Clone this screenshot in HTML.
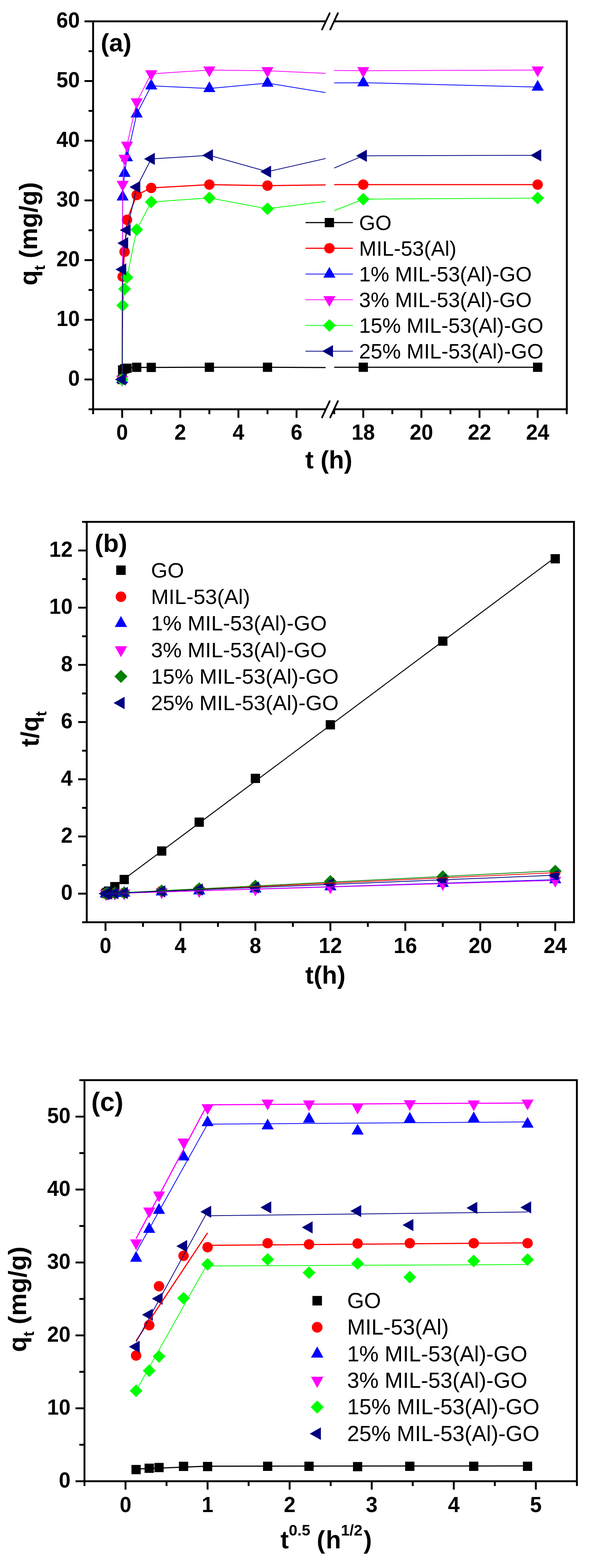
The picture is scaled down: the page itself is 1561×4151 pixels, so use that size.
<!DOCTYPE html>
<html><head><meta charset="utf-8"><title>Adsorption kinetics</title><style>html,body{margin:0;padding:0;background:#fff;}svg{display:block;}</style></head><body>
<svg width="1561" height="4151" viewBox="0 0 1561 4151" font-family="'Liberation Sans', Arial, Helvetica, sans-serif">
<rect width="1561" height="4151" fill="#fff"/>
<defs><clipPath id="ca1"><rect x="246" y="56" width="615.5" height="1028"/></clipPath><clipPath id="ca2"><rect x="884.2" y="56" width="616" height="1028"/></clipPath></defs>
<polyline points="323.2,1004.6 324.5,979.3 329.6,976.5 336.0,974.9 361.7,972.4 400.1,972.7 553.9,972.2 707.7,972.2 863.8,973.0 872.9,972.2 961.1,972.2 1422.5,972.2" fill="none" stroke="#000000" stroke-width="3" clip-path="url(#ca1)"/>
<polyline points="323.2,1004.6 324.5,979.3 329.6,976.5 336.0,974.9 361.7,972.4 400.1,972.7 553.9,972.2 707.7,972.2 863.8,973.0 872.9,972.2 961.1,972.2 1422.5,972.2" fill="none" stroke="#000000" stroke-width="3" clip-path="url(#ca2)"/>
<rect x="311.0" y="992.4" width="24.5" height="24.5" fill="#000000"/>
<rect x="312.2" y="967.1" width="24.5" height="24.5" fill="#000000"/>
<rect x="317.4" y="964.2" width="24.5" height="24.5" fill="#000000"/>
<rect x="323.8" y="962.6" width="24.5" height="24.5" fill="#000000"/>
<rect x="349.4" y="960.1" width="24.5" height="24.5" fill="#000000"/>
<rect x="387.9" y="960.4" width="24.5" height="24.5" fill="#000000"/>
<rect x="541.7" y="960.0" width="24.5" height="24.5" fill="#000000"/>
<rect x="695.5" y="960.0" width="24.5" height="24.5" fill="#000000"/>
<rect x="948.9" y="960.0" width="24.5" height="24.5" fill="#000000"/>
<rect x="1410.2" y="960.0" width="24.5" height="24.5" fill="#000000"/>
<polyline points="323.2,1004.6 324.5,732.2 329.6,666.4 336.0,582.1 361.7,516.2 400.1,497.5 553.9,488.8 707.7,491.4 863.8,489.5 872.9,488.8 961.1,488.8 1422.5,488.8" fill="none" stroke="#FF0000" stroke-width="3" clip-path="url(#ca1)"/>
<polyline points="323.2,1004.6 324.5,732.2 329.6,666.4 336.0,582.1 361.7,516.2 400.1,497.5 553.9,488.8 707.7,491.4 863.8,489.5 872.9,488.8 961.1,488.8 1422.5,488.8" fill="none" stroke="#FF0000" stroke-width="3" clip-path="url(#ca2)"/>
<circle cx="323.2" cy="1004.6" r="13.8" fill="#FF0000"/>
<circle cx="324.5" cy="732.2" r="13.8" fill="#FF0000"/>
<circle cx="329.6" cy="666.4" r="13.8" fill="#FF0000"/>
<circle cx="336.0" cy="582.1" r="13.8" fill="#FF0000"/>
<circle cx="361.7" cy="516.2" r="13.8" fill="#FF0000"/>
<circle cx="400.1" cy="497.5" r="13.8" fill="#FF0000"/>
<circle cx="553.9" cy="488.8" r="13.8" fill="#FF0000"/>
<circle cx="707.7" cy="491.4" r="13.8" fill="#FF0000"/>
<circle cx="961.1" cy="488.8" r="13.8" fill="#FF0000"/>
<circle cx="1422.5" cy="488.8" r="13.8" fill="#FF0000"/>
<polyline points="323.2,1004.6 324.5,521.2 329.6,458.7 336.0,417.4 361.7,301.6 400.1,227.3 553.9,234.3 707.7,220.0 863.8,245.6 872.9,219.7 961.1,218.9 1422.5,230.6" fill="none" stroke="#0000FF" stroke-width="2" clip-path="url(#ca1)"/>
<polyline points="323.2,1004.6 324.5,521.2 329.6,458.7 336.0,417.4 361.7,301.6 400.1,227.3 553.9,234.3 707.7,220.0 863.8,245.6 872.9,219.7 961.1,218.9 1422.5,230.6" fill="none" stroke="#0000FF" stroke-width="2" clip-path="url(#ca2)"/>
<polygon points="323.2,985.6 339.2,1014.1 307.2,1014.1" fill="#0000FF"/>
<polygon points="324.5,502.2 340.5,530.7 308.5,530.7" fill="#0000FF"/>
<polygon points="329.6,439.7 345.6,468.2 313.6,468.2" fill="#0000FF"/>
<polygon points="336.0,398.4 352.0,426.9 320.0,426.9" fill="#0000FF"/>
<polygon points="361.7,282.6 377.7,311.1 345.7,311.1" fill="#0000FF"/>
<polygon points="400.1,208.3 416.1,236.8 384.1,236.8" fill="#0000FF"/>
<polygon points="553.9,215.3 569.9,243.8 537.9,243.8" fill="#0000FF"/>
<polygon points="707.7,201.0 723.7,229.5 691.7,229.5" fill="#0000FF"/>
<polygon points="961.1,199.9 977.1,228.4 945.1,228.4" fill="#0000FF"/>
<polygon points="1422.5,211.6 1438.5,240.1 1406.5,240.1" fill="#0000FF"/>
<polyline points="323.2,1004.6 324.5,488.2 329.6,419.3 336.0,384.5 361.7,269.8 400.1,195.4 553.9,185.4 707.7,187.2 863.8,194.3 872.9,186.5 961.1,187.2 1422.5,185.4" fill="none" stroke="#FF00FF" stroke-width="2" clip-path="url(#ca1)"/>
<polyline points="323.2,1004.6 324.5,488.2 329.6,419.3 336.0,384.5 361.7,269.8 400.1,195.4 553.9,185.4 707.7,187.2 863.8,194.3 872.9,186.5 961.1,187.2 1422.5,185.4" fill="none" stroke="#FF00FF" stroke-width="2" clip-path="url(#ca2)"/>
<polygon points="307.2,995.1 339.2,995.1 323.2,1023.6" fill="#FF00FF"/>
<polygon points="308.5,478.7 340.5,478.7 324.5,507.2" fill="#FF00FF"/>
<polygon points="313.6,409.8 345.6,409.8 329.6,438.3" fill="#FF00FF"/>
<polygon points="320.0,375.0 352.0,375.0 336.0,403.5" fill="#FF00FF"/>
<polygon points="345.7,260.3 377.7,260.3 361.7,288.8" fill="#FF00FF"/>
<polygon points="384.1,185.9 416.1,185.9 400.1,214.4" fill="#FF00FF"/>
<polygon points="537.9,175.9 569.9,175.9 553.9,204.4" fill="#FF00FF"/>
<polygon points="691.7,177.7 723.7,177.7 707.7,206.2" fill="#FF00FF"/>
<polygon points="945.1,177.7 977.1,177.7 961.1,206.2" fill="#FF00FF"/>
<polygon points="1406.5,175.9 1438.5,175.9 1422.5,204.4" fill="#FF00FF"/>
<polyline points="323.2,1004.6 324.5,808.5 329.6,765.0 336.0,734.2 361.7,608.0 400.1,534.7 553.9,523.9 707.7,552.7 863.8,532.8 872.9,562.3 961.1,527.2 1422.5,524.4" fill="none" stroke="#00FF00" stroke-width="2" clip-path="url(#ca1)"/>
<polyline points="323.2,1004.6 324.5,808.5 329.6,765.0 336.0,734.2 361.7,608.0 400.1,534.7 553.9,523.9 707.7,552.7 863.8,532.8 872.9,562.3 961.1,527.2 1422.5,524.4" fill="none" stroke="#00FF00" stroke-width="2" clip-path="url(#ca2)"/>
<polygon points="323.2,987.8 340.1,1004.6 323.2,1021.5 306.4,1004.6" fill="#00FF00"/>
<polygon points="324.5,791.7 341.3,808.5 324.5,825.4 307.6,808.5" fill="#00FF00"/>
<polygon points="329.6,748.2 346.5,765.0 329.6,781.9 312.8,765.0" fill="#00FF00"/>
<polygon points="336.0,717.4 352.9,734.2 336.0,751.1 319.2,734.2" fill="#00FF00"/>
<polygon points="361.7,591.1 378.5,608.0 361.7,624.8 344.8,608.0" fill="#00FF00"/>
<polygon points="400.1,517.8 417.0,534.7 400.1,551.5 383.2,534.7" fill="#00FF00"/>
<polygon points="553.9,507.1 570.8,523.9 553.9,540.8 537.1,523.9" fill="#00FF00"/>
<polygon points="707.7,535.8 724.6,552.7 707.7,569.5 690.9,552.7" fill="#00FF00"/>
<polygon points="961.1,510.4 978.0,527.2 961.1,544.1 944.2,527.2" fill="#00FF00"/>
<polygon points="1422.5,507.5 1439.3,524.4 1422.5,541.2 1405.7,524.4" fill="#00FF00"/>
<polyline points="323.2,1004.6 324.5,713.2 329.6,643.8 336.0,609.1 361.7,495.2 400.1,420.7 553.9,411.2 707.7,454.5 863.8,419.1 872.9,449.5 961.1,412.4 1422.5,411.2" fill="none" stroke="#000080" stroke-width="2" clip-path="url(#ca1)"/>
<polyline points="323.2,1004.6 324.5,713.2 329.6,643.8 336.0,609.1 361.7,495.2 400.1,420.7 553.9,411.2 707.7,454.5 863.8,419.1 872.9,449.5 961.1,412.4 1422.5,411.2" fill="none" stroke="#000080" stroke-width="2" clip-path="url(#ca2)"/>
<polygon points="304.2,1004.6 332.7,988.5 332.7,1020.7" fill="#000080"/>
<polygon points="305.5,713.2 334.0,697.1 334.0,729.3" fill="#000080"/>
<polygon points="310.6,643.8 339.1,627.7 339.1,659.9" fill="#000080"/>
<polygon points="317.0,609.1 345.5,593.0 345.5,625.2" fill="#000080"/>
<polygon points="342.7,495.2 371.2,479.1 371.2,511.3" fill="#000080"/>
<polygon points="381.1,420.7 409.6,404.6 409.6,436.8" fill="#000080"/>
<polygon points="534.9,411.2 563.4,395.1 563.4,427.3" fill="#000080"/>
<polygon points="688.7,454.5 717.2,438.4 717.2,470.6" fill="#000080"/>
<polygon points="942.1,412.4 970.6,396.3 970.6,428.5" fill="#000080"/>
<polygon points="1403.5,411.2 1432.0,395.1 1432.0,427.3" fill="#000080"/>
<g stroke="#000" stroke-width="5" fill="none">
<line x1="246.3" y1="56.5" x2="246.3" y2="1083.5"/>
<line x1="1499.7" y1="54.0" x2="1499.7" y2="1086.0"/>
<line x1="243.8" y1="56.5" x2="861.5" y2="56.5"/>
<line x1="885" y1="56.5" x2="1502.2" y2="56.5"/>
<line x1="243.8" y1="1083.5" x2="861.5" y2="1083.5"/>
<line x1="885" y1="1083.5" x2="1502.2" y2="1083.5"/>
</g>
<line x1="852.1" y1="78.0" x2="872.3" y2="35.0" stroke="#000000" stroke-width="4.6" stroke-linecap="round"/>
<line x1="873.8" y1="78.0" x2="894.0" y2="35.0" stroke="#000000" stroke-width="4.6" stroke-linecap="round"/>
<line x1="852.1" y1="1105.0" x2="872.3" y2="1062.0" stroke="#000000" stroke-width="4.6" stroke-linecap="round"/>
<line x1="873.8" y1="1105.0" x2="894.0" y2="1062.0" stroke="#000000" stroke-width="4.6" stroke-linecap="round"/>
<line x1="234.3" y1="1083.6" x2="246.3" y2="1083.6" stroke="#000000" stroke-width="5" stroke-linecap="butt"/>
<line x1="223.6" y1="1004.6" x2="246.3" y2="1004.6" stroke="#000000" stroke-width="5" stroke-linecap="butt"/>
<text transform="translate(211.0,1020.9) scale(1,1.05)" font-size="55.5" font-weight="bold" text-anchor="end" >0</text>
<line x1="234.3" y1="925.6" x2="246.3" y2="925.6" stroke="#000000" stroke-width="5" stroke-linecap="butt"/>
<line x1="223.6" y1="846.6" x2="246.3" y2="846.6" stroke="#000000" stroke-width="5" stroke-linecap="butt"/>
<text transform="translate(211.0,862.9) scale(1,1.05)" font-size="55.5" font-weight="bold" text-anchor="end" >10</text>
<line x1="234.3" y1="767.6" x2="246.3" y2="767.6" stroke="#000000" stroke-width="5" stroke-linecap="butt"/>
<line x1="223.6" y1="688.6" x2="246.3" y2="688.6" stroke="#000000" stroke-width="5" stroke-linecap="butt"/>
<text transform="translate(211.0,704.9) scale(1,1.05)" font-size="55.5" font-weight="bold" text-anchor="end" >20</text>
<line x1="234.3" y1="609.6" x2="246.3" y2="609.6" stroke="#000000" stroke-width="5" stroke-linecap="butt"/>
<line x1="223.6" y1="530.5" x2="246.3" y2="530.5" stroke="#000000" stroke-width="5" stroke-linecap="butt"/>
<text transform="translate(211.0,546.8) scale(1,1.05)" font-size="55.5" font-weight="bold" text-anchor="end" >30</text>
<line x1="234.3" y1="451.5" x2="246.3" y2="451.5" stroke="#000000" stroke-width="5" stroke-linecap="butt"/>
<line x1="223.6" y1="372.5" x2="246.3" y2="372.5" stroke="#000000" stroke-width="5" stroke-linecap="butt"/>
<text transform="translate(211.0,388.8) scale(1,1.05)" font-size="55.5" font-weight="bold" text-anchor="end" >40</text>
<line x1="234.3" y1="293.5" x2="246.3" y2="293.5" stroke="#000000" stroke-width="5" stroke-linecap="butt"/>
<line x1="223.6" y1="214.5" x2="246.3" y2="214.5" stroke="#000000" stroke-width="5" stroke-linecap="butt"/>
<text transform="translate(211.0,230.8) scale(1,1.05)" font-size="55.5" font-weight="bold" text-anchor="end" >50</text>
<line x1="234.3" y1="135.5" x2="246.3" y2="135.5" stroke="#000000" stroke-width="5" stroke-linecap="butt"/>
<line x1="223.6" y1="56.5" x2="246.3" y2="56.5" stroke="#000000" stroke-width="5" stroke-linecap="butt"/>
<text transform="translate(211.0,72.8) scale(1,1.05)" font-size="55.5" font-weight="bold" text-anchor="end" >60</text>
<line x1="246.3" y1="1083.5" x2="246.3" y2="1096.4" stroke="#000000" stroke-width="5" stroke-linecap="butt"/>
<line x1="323.2" y1="1083.5" x2="323.2" y2="1106.3" stroke="#000000" stroke-width="5" stroke-linecap="butt"/>
<text transform="translate(323.2,1163.5) scale(1,1.05)" font-size="55.5" font-weight="bold" text-anchor="middle" >0</text>
<line x1="400.1" y1="1083.5" x2="400.1" y2="1096.4" stroke="#000000" stroke-width="5" stroke-linecap="butt"/>
<line x1="477.0" y1="1083.5" x2="477.0" y2="1106.3" stroke="#000000" stroke-width="5" stroke-linecap="butt"/>
<text transform="translate(477.0,1163.5) scale(1,1.05)" font-size="55.5" font-weight="bold" text-anchor="middle" >2</text>
<line x1="553.9" y1="1083.5" x2="553.9" y2="1096.4" stroke="#000000" stroke-width="5" stroke-linecap="butt"/>
<line x1="630.8" y1="1083.5" x2="630.8" y2="1106.3" stroke="#000000" stroke-width="5" stroke-linecap="butt"/>
<text transform="translate(630.8,1163.5) scale(1,1.05)" font-size="55.5" font-weight="bold" text-anchor="middle" >4</text>
<line x1="707.7" y1="1083.5" x2="707.7" y2="1096.4" stroke="#000000" stroke-width="5" stroke-linecap="butt"/>
<line x1="784.6" y1="1083.5" x2="784.6" y2="1106.3" stroke="#000000" stroke-width="5" stroke-linecap="butt"/>
<text transform="translate(784.6,1163.5) scale(1,1.05)" font-size="55.5" font-weight="bold" text-anchor="middle" >6</text>
<line x1="884.2" y1="1083.5" x2="884.2" y2="1096.4" stroke="#000000" stroke-width="5" stroke-linecap="butt"/>
<line x1="961.1" y1="1083.5" x2="961.1" y2="1106.3" stroke="#000000" stroke-width="5" stroke-linecap="butt"/>
<text transform="translate(961.1,1163.5) scale(1,1.05)" font-size="55.5" font-weight="bold" text-anchor="middle" >18</text>
<line x1="1038.0" y1="1083.5" x2="1038.0" y2="1096.4" stroke="#000000" stroke-width="5" stroke-linecap="butt"/>
<line x1="1114.9" y1="1083.5" x2="1114.9" y2="1106.3" stroke="#000000" stroke-width="5" stroke-linecap="butt"/>
<text transform="translate(1114.9,1163.5) scale(1,1.05)" font-size="55.5" font-weight="bold" text-anchor="middle" >20</text>
<line x1="1191.8" y1="1083.5" x2="1191.8" y2="1096.4" stroke="#000000" stroke-width="5" stroke-linecap="butt"/>
<line x1="1268.7" y1="1083.5" x2="1268.7" y2="1106.3" stroke="#000000" stroke-width="5" stroke-linecap="butt"/>
<text transform="translate(1268.7,1163.5) scale(1,1.05)" font-size="55.5" font-weight="bold" text-anchor="middle" >22</text>
<line x1="1345.6" y1="1083.5" x2="1345.6" y2="1096.4" stroke="#000000" stroke-width="5" stroke-linecap="butt"/>
<line x1="1422.5" y1="1083.5" x2="1422.5" y2="1106.3" stroke="#000000" stroke-width="5" stroke-linecap="butt"/>
<text transform="translate(1422.5,1163.5) scale(1,1.05)" font-size="55.5" font-weight="bold" text-anchor="middle" >24</text>
<line x1="1499.4" y1="1083.5" x2="1499.4" y2="1096.4" stroke="#000000" stroke-width="5" stroke-linecap="butt"/>
<text x="870.0" y="1240.0" font-size="66" font-weight="bold" text-anchor="middle" >t (h)</text>
<text transform="translate(97.5,619) rotate(-90)" font-size="66" font-weight="bold" text-anchor="middle">q<tspan font-size="40" dy="21">t</tspan><tspan dy="-21"> (mg/g)</tspan></text>
<text x="266.5" y="136.0" font-size="66.5" font-weight="bold" text-anchor="start" >(a)</text>
<line x1="808.3" y1="589.2" x2="933.7" y2="589.2" stroke="#000000" stroke-width="3" stroke-linecap="butt"/>
<rect x="859.2" y="577.0" width="24.5" height="24.5" fill="#000000"/>
<text x="950.0" y="608.7" font-size="55.2" font-weight="normal" text-anchor="start" >GO</text>
<line x1="808.3" y1="657.3" x2="933.7" y2="657.3" stroke="#FF0000" stroke-width="3" stroke-linecap="butt"/>
<circle cx="871.5" cy="657.3" r="13.8" fill="#FF0000"/>
<text x="950.0" y="676.8" font-size="55.2" font-weight="normal" text-anchor="start" >MIL-53(Al)</text>
<line x1="808.3" y1="725.4" x2="933.7" y2="725.4" stroke="#0000FF" stroke-width="2" stroke-linecap="butt"/>
<polygon points="871.5,706.4 887.5,734.9 855.5,734.9" fill="#0000FF"/>
<text x="950.0" y="744.9" font-size="55.2" font-weight="normal" text-anchor="start" >1% MIL-53(Al)-GO</text>
<line x1="808.3" y1="793.5" x2="933.7" y2="793.5" stroke="#FF00FF" stroke-width="2" stroke-linecap="butt"/>
<polygon points="855.5,784.0 887.5,784.0 871.5,812.5" fill="#FF00FF"/>
<text x="950.0" y="813.0" font-size="55.2" font-weight="normal" text-anchor="start" >3% MIL-53(Al)-GO</text>
<line x1="808.3" y1="861.6" x2="933.7" y2="861.6" stroke="#00FF00" stroke-width="2" stroke-linecap="butt"/>
<polygon points="871.5,844.8 888.4,861.6 871.5,878.5 854.6,861.6" fill="#00FF00"/>
<text x="950.0" y="881.1" font-size="55.2" font-weight="normal" text-anchor="start" >15% MIL-53(Al)-GO</text>
<line x1="808.3" y1="929.7" x2="933.7" y2="929.7" stroke="#000080" stroke-width="2" stroke-linecap="butt"/>
<polygon points="852.5,929.7 881.0,913.6 881.0,945.8" fill="#000080"/>
<text x="950.0" y="949.2" font-size="55.2" font-weight="normal" text-anchor="start" >25% MIL-53(Al)-GO</text>
<rect x="267.7" y="2352.8" width="24.5" height="24.5" fill="#000000"/>
<rect x="271.0" y="2350.0" width="24.5" height="24.5" fill="#000000"/>
<rect x="275.1" y="2346.8" width="24.5" height="24.5" fill="#000000"/>
<rect x="291.6" y="2335.0" width="24.5" height="24.5" fill="#000000"/>
<rect x="316.4" y="2316.1" width="24.5" height="24.5" fill="#000000"/>
<rect x="415.6" y="2240.7" width="24.5" height="24.5" fill="#000000"/>
<rect x="514.8" y="2164.3" width="24.5" height="24.5" fill="#000000"/>
<rect x="663.5" y="2048.4" width="24.5" height="24.5" fill="#000000"/>
<rect x="861.8" y="1906.5" width="24.5" height="24.5" fill="#000000"/>
<rect x="1159.3" y="1685.0" width="24.5" height="24.5" fill="#000000"/>
<rect x="1456.8" y="1467.0" width="24.5" height="24.5" fill="#000000"/>
<circle cx="279.9" cy="2365.7" r="13.8" fill="#FF0000"/>
<circle cx="283.2" cy="2365.5" r="13.8" fill="#FF0000"/>
<circle cx="287.4" cy="2365.3" r="13.8" fill="#FF0000"/>
<circle cx="303.9" cy="2364.6" r="13.8" fill="#FF0000"/>
<circle cx="328.7" cy="2363.4" r="13.8" fill="#FF0000"/>
<circle cx="427.8" cy="2358.8" r="13.8" fill="#FF0000"/>
<circle cx="527.0" cy="2354.1" r="13.8" fill="#FF0000"/>
<circle cx="675.7" cy="2347.2" r="13.8" fill="#FF0000"/>
<circle cx="874.1" cy="2338.0" r="13.8" fill="#FF0000"/>
<circle cx="1171.5" cy="2324.0" r="13.8" fill="#FF0000"/>
<circle cx="1469.0" cy="2310.1" r="13.8" fill="#FF0000"/>
<polygon points="279.9,2346.8 295.9,2375.3 263.9,2375.3" fill="#0000FF"/>
<polygon points="283.2,2346.6 299.2,2375.1 267.2,2375.1" fill="#0000FF"/>
<polygon points="287.4,2346.5 303.4,2375.0 271.4,2375.0" fill="#0000FF"/>
<polygon points="303.9,2345.9 319.9,2374.4 287.9,2374.4" fill="#0000FF"/>
<polygon points="328.7,2345.3 344.7,2373.8 312.7,2373.8" fill="#0000FF"/>
<polygon points="427.8,2342.1 443.8,2370.6 411.8,2370.6" fill="#0000FF"/>
<polygon points="527.0,2339.2 543.0,2367.7 511.0,2367.7" fill="#0000FF"/>
<polygon points="675.7,2334.2 691.7,2362.7 659.7,2362.7" fill="#0000FF"/>
<polygon points="874.1,2328.5 890.1,2357.0 858.1,2357.0" fill="#0000FF"/>
<polygon points="1171.5,2319.4 1187.5,2347.9 1155.5,2347.9" fill="#0000FF"/>
<polygon points="1469.0,2309.7 1485.0,2338.2 1453.0,2338.2" fill="#0000FF"/>
<polygon points="263.9,2356.3 295.9,2356.3 279.9,2384.8" fill="#FF00FF"/>
<polygon points="267.2,2356.1 299.2,2356.1 283.2,2384.6" fill="#FF00FF"/>
<polygon points="271.4,2356.0 303.4,2356.0 287.4,2384.5" fill="#FF00FF"/>
<polygon points="287.9,2355.5 319.9,2355.5 303.9,2384.0" fill="#FF00FF"/>
<polygon points="312.7,2354.8 344.7,2354.8 328.7,2383.3" fill="#FF00FF"/>
<polygon points="411.8,2351.9 443.8,2351.9 427.8,2380.4" fill="#FF00FF"/>
<polygon points="511.0,2349.0 543.0,2349.0 527.0,2377.5" fill="#FF00FF"/>
<polygon points="659.7,2344.5 691.7,2344.5 675.7,2373.0" fill="#FF00FF"/>
<polygon points="858.1,2338.8 890.1,2338.8 874.1,2367.3" fill="#FF00FF"/>
<polygon points="1155.5,2330.0 1187.5,2330.0 1171.5,2358.5" fill="#FF00FF"/>
<polygon points="1453.0,2321.2 1485.0,2321.2 1469.0,2349.7" fill="#FF00FF"/>
<polygon points="279.9,2348.8 296.8,2365.7 279.9,2382.5 263.1,2365.7" fill="#008000"/>
<polygon points="283.2,2348.5 300.1,2365.4 283.2,2382.2 266.4,2365.4" fill="#008000"/>
<polygon points="287.4,2348.2 304.2,2365.1 287.4,2381.9 270.5,2365.1" fill="#008000"/>
<polygon points="303.9,2347.4 320.7,2364.3 303.9,2381.1 287.0,2364.3" fill="#008000"/>
<polygon points="328.7,2346.4 345.5,2363.3 328.7,2380.1 311.8,2363.3" fill="#008000"/>
<polygon points="427.8,2341.5 444.7,2358.3 427.8,2375.2 411.0,2358.3" fill="#008000"/>
<polygon points="527.0,2335.7 543.9,2352.6 527.0,2369.4 510.1,2352.6" fill="#008000"/>
<polygon points="675.7,2328.7 692.6,2345.5 675.7,2362.4 658.9,2345.5" fill="#008000"/>
<polygon points="874.1,2316.5 890.9,2333.3 874.1,2350.2 857.2,2333.3" fill="#008000"/>
<polygon points="1171.5,2303.8 1188.4,2320.7 1171.5,2337.5 1154.7,2320.7" fill="#008000"/>
<polygon points="1469.0,2289.2 1485.9,2306.0 1469.0,2322.9 1452.2,2306.0" fill="#008000"/>
<polygon points="260.9,2365.7 289.4,2349.6 289.4,2381.8" fill="#000080"/>
<polygon points="264.2,2365.5 292.7,2349.4 292.7,2381.6" fill="#000080"/>
<polygon points="268.4,2365.3 296.9,2349.2 296.9,2381.4" fill="#000080"/>
<polygon points="284.9,2364.6 313.4,2348.5 313.4,2380.7" fill="#000080"/>
<polygon points="309.7,2363.8 338.2,2347.7 338.2,2379.9" fill="#000080"/>
<polygon points="408.8,2359.8 437.3,2343.7 437.3,2375.9" fill="#000080"/>
<polygon points="508.0,2354.9 536.5,2338.8 536.5,2371.0" fill="#000080"/>
<polygon points="656.7,2349.5 685.2,2333.4 685.2,2365.6" fill="#000080"/>
<polygon points="855.1,2339.9 883.6,2323.8 883.6,2356.0" fill="#000080"/>
<polygon points="1152.5,2329.4 1181.0,2313.3 1181.0,2345.5" fill="#000080"/>
<polygon points="1450.0,2317.4 1478.5,2301.3 1478.5,2333.5" fill="#000080"/>
<line x1="279.1" y1="2364.0" x2="1478.9" y2="1468.2" stroke="#000000" stroke-width="2.5" stroke-linecap="butt"/>
<line x1="279.1" y1="2365.7" x2="1478.9" y2="2309.7" stroke="#FF0000" stroke-width="2" stroke-linecap="butt"/>
<line x1="279.1" y1="2365.8" x2="1478.9" y2="2328.6" stroke="#0000FF" stroke-width="2" stroke-linecap="butt"/>
<line x1="279.1" y1="2365.8" x2="1478.9" y2="2330.4" stroke="#FF00FF" stroke-width="2" stroke-linecap="butt"/>
<line x1="279.1" y1="2365.5" x2="1478.9" y2="2304.8" stroke="#008000" stroke-width="2" stroke-linecap="butt"/>
<line x1="279.1" y1="2365.6" x2="1478.9" y2="2316.6" stroke="#000080" stroke-width="2" stroke-linecap="butt"/>
<rect x="229.5" y="1381.5" width="1289.1" height="1060.0" fill="none" stroke="#000" stroke-width="5"/>
<line x1="217.2" y1="2441.5" x2="229.5" y2="2441.5" stroke="#000000" stroke-width="5" stroke-linecap="butt"/>
<line x1="206.8" y1="2365.8" x2="229.5" y2="2365.8" stroke="#000000" stroke-width="5" stroke-linecap="butt"/>
<text transform="translate(192.0,2382.3) scale(1,1.05)" font-size="55.5" font-weight="bold" text-anchor="end" >0</text>
<line x1="217.2" y1="2290.1" x2="229.5" y2="2290.1" stroke="#000000" stroke-width="5" stroke-linecap="butt"/>
<line x1="206.8" y1="2214.4" x2="229.5" y2="2214.4" stroke="#000000" stroke-width="5" stroke-linecap="butt"/>
<text transform="translate(192.0,2230.9) scale(1,1.05)" font-size="55.5" font-weight="bold" text-anchor="end" >2</text>
<line x1="217.2" y1="2138.7" x2="229.5" y2="2138.7" stroke="#000000" stroke-width="5" stroke-linecap="butt"/>
<line x1="206.8" y1="2063.0" x2="229.5" y2="2063.0" stroke="#000000" stroke-width="5" stroke-linecap="butt"/>
<text transform="translate(192.0,2079.5) scale(1,1.05)" font-size="55.5" font-weight="bold" text-anchor="end" >4</text>
<line x1="217.2" y1="1987.3" x2="229.5" y2="1987.3" stroke="#000000" stroke-width="5" stroke-linecap="butt"/>
<line x1="206.8" y1="1911.5" x2="229.5" y2="1911.5" stroke="#000000" stroke-width="5" stroke-linecap="butt"/>
<text transform="translate(192.0,1928.0) scale(1,1.05)" font-size="55.5" font-weight="bold" text-anchor="end" >6</text>
<line x1="217.2" y1="1835.8" x2="229.5" y2="1835.8" stroke="#000000" stroke-width="5" stroke-linecap="butt"/>
<line x1="206.8" y1="1760.1" x2="229.5" y2="1760.1" stroke="#000000" stroke-width="5" stroke-linecap="butt"/>
<text transform="translate(192.0,1776.6) scale(1,1.05)" font-size="55.5" font-weight="bold" text-anchor="end" >8</text>
<line x1="217.2" y1="1684.4" x2="229.5" y2="1684.4" stroke="#000000" stroke-width="5" stroke-linecap="butt"/>
<line x1="206.8" y1="1608.7" x2="229.5" y2="1608.7" stroke="#000000" stroke-width="5" stroke-linecap="butt"/>
<text transform="translate(192.0,1625.2) scale(1,1.05)" font-size="55.5" font-weight="bold" text-anchor="end" >10</text>
<line x1="217.2" y1="1533.0" x2="229.5" y2="1533.0" stroke="#000000" stroke-width="5" stroke-linecap="butt"/>
<line x1="206.8" y1="1457.3" x2="229.5" y2="1457.3" stroke="#000000" stroke-width="5" stroke-linecap="butt"/>
<text transform="translate(192.0,1473.8) scale(1,1.05)" font-size="55.5" font-weight="bold" text-anchor="end" >12</text>
<line x1="217.2" y1="1381.6" x2="229.5" y2="1381.6" stroke="#000000" stroke-width="5" stroke-linecap="butt"/>
<line x1="279.1" y1="2441.5" x2="279.1" y2="2464.5" stroke="#000000" stroke-width="5" stroke-linecap="butt"/>
<text transform="translate(279.1,2522.5) scale(1,1.05)" font-size="55.5" font-weight="bold" text-anchor="middle" >0</text>
<line x1="378.3" y1="2441.5" x2="378.3" y2="2453.7" stroke="#000000" stroke-width="5" stroke-linecap="butt"/>
<line x1="477.4" y1="2441.5" x2="477.4" y2="2464.5" stroke="#000000" stroke-width="5" stroke-linecap="butt"/>
<text transform="translate(477.4,2522.5) scale(1,1.05)" font-size="55.5" font-weight="bold" text-anchor="middle" >4</text>
<line x1="576.6" y1="2441.5" x2="576.6" y2="2453.7" stroke="#000000" stroke-width="5" stroke-linecap="butt"/>
<line x1="675.7" y1="2441.5" x2="675.7" y2="2464.5" stroke="#000000" stroke-width="5" stroke-linecap="butt"/>
<text transform="translate(675.7,2522.5) scale(1,1.05)" font-size="55.5" font-weight="bold" text-anchor="middle" >8</text>
<line x1="774.9" y1="2441.5" x2="774.9" y2="2453.7" stroke="#000000" stroke-width="5" stroke-linecap="butt"/>
<line x1="874.1" y1="2441.5" x2="874.1" y2="2464.5" stroke="#000000" stroke-width="5" stroke-linecap="butt"/>
<text transform="translate(874.1,2522.5) scale(1,1.05)" font-size="55.5" font-weight="bold" text-anchor="middle" >12</text>
<line x1="973.2" y1="2441.5" x2="973.2" y2="2453.7" stroke="#000000" stroke-width="5" stroke-linecap="butt"/>
<line x1="1072.4" y1="2441.5" x2="1072.4" y2="2464.5" stroke="#000000" stroke-width="5" stroke-linecap="butt"/>
<text transform="translate(1072.4,2522.5) scale(1,1.05)" font-size="55.5" font-weight="bold" text-anchor="middle" >16</text>
<line x1="1171.5" y1="2441.5" x2="1171.5" y2="2453.7" stroke="#000000" stroke-width="5" stroke-linecap="butt"/>
<line x1="1270.7" y1="2441.5" x2="1270.7" y2="2464.5" stroke="#000000" stroke-width="5" stroke-linecap="butt"/>
<text transform="translate(1270.7,2522.5) scale(1,1.05)" font-size="55.5" font-weight="bold" text-anchor="middle" >20</text>
<line x1="1369.9" y1="2441.5" x2="1369.9" y2="2453.7" stroke="#000000" stroke-width="5" stroke-linecap="butt"/>
<line x1="1469.0" y1="2441.5" x2="1469.0" y2="2464.5" stroke="#000000" stroke-width="5" stroke-linecap="butt"/>
<text transform="translate(1469.0,2522.5) scale(1,1.05)" font-size="55.5" font-weight="bold" text-anchor="middle" >24</text>
<text x="861.0" y="2603.5" font-size="66" font-weight="bold" text-anchor="middle" >t(h)</text>
<text transform="translate(101.5,1930) rotate(-90)" font-size="66" font-weight="bold" text-anchor="middle">t/q<tspan font-size="40" dy="21">t</tspan></text>
<text x="250.5" y="1461.0" font-size="67.5" font-weight="bold" text-anchor="start" >(b)</text>
<rect x="307.5" y="1497.0" width="25.0" height="25.0" fill="#000000"/>
<text x="399.5" y="1528.8" font-size="56.2" font-weight="normal" text-anchor="start" >GO</text>
<circle cx="320.0" cy="1579.8" r="14.0" fill="#FF0000"/>
<text x="399.5" y="1599.1" font-size="56.2" font-weight="normal" text-anchor="start" >MIL-53(Al)</text>
<polygon points="320.0,1630.7 336.3,1659.8 303.7,1659.8" fill="#0000FF"/>
<text x="399.5" y="1669.4" font-size="56.2" font-weight="normal" text-anchor="start" >1% MIL-53(Al)-GO</text>
<polygon points="303.7,1710.7 336.3,1710.7 320.0,1739.8" fill="#FF00FF"/>
<text x="399.5" y="1739.7" font-size="56.2" font-weight="normal" text-anchor="start" >3% MIL-53(Al)-GO</text>
<polygon points="320.0,1773.5 337.2,1790.7 320.0,1807.9 302.8,1790.7" fill="#008000"/>
<text x="399.5" y="1810.0" font-size="56.2" font-weight="normal" text-anchor="start" >15% MIL-53(Al)-GO</text>
<polygon points="300.6,1861.0 329.7,1844.6 329.7,1877.4" fill="#000080"/>
<text x="399.5" y="1880.3" font-size="56.2" font-weight="normal" text-anchor="start" >25% MIL-53(Al)-GO</text>
<rect x="347.8" y="3878.2" width="24.5" height="24.5" fill="#000000"/>
<rect x="382.5" y="3874.7" width="24.5" height="24.5" fill="#000000"/>
<rect x="408.5" y="3872.8" width="24.5" height="24.5" fill="#000000"/>
<rect x="473.4" y="3869.7" width="24.5" height="24.5" fill="#000000"/>
<rect x="537.0" y="3870.1" width="24.5" height="24.5" fill="#000000"/>
<rect x="695.9" y="3869.5" width="24.5" height="24.5" fill="#000000"/>
<rect x="805.3" y="3869.5" width="24.5" height="24.5" fill="#000000"/>
<rect x="933.9" y="3870.4" width="24.5" height="24.5" fill="#000000"/>
<rect x="1072.0" y="3869.5" width="24.5" height="24.5" fill="#000000"/>
<rect x="1241.1" y="3869.5" width="24.5" height="24.5" fill="#000000"/>
<rect x="1383.5" y="3869.5" width="24.5" height="24.5" fill="#000000"/>
<circle cx="360.1" cy="3588.5" r="13.8" fill="#FF0000"/>
<circle cx="394.8" cy="3508.2" r="13.8" fill="#FF0000"/>
<circle cx="420.7" cy="3405.1" r="13.8" fill="#FF0000"/>
<circle cx="485.6" cy="3324.6" r="13.8" fill="#FF0000"/>
<circle cx="549.2" cy="3301.8" r="13.8" fill="#FF0000"/>
<circle cx="708.1" cy="3291.2" r="13.8" fill="#FF0000"/>
<circle cx="817.6" cy="3294.3" r="13.8" fill="#FF0000"/>
<circle cx="946.1" cy="3292.0" r="13.8" fill="#FF0000"/>
<circle cx="1084.2" cy="3291.2" r="13.8" fill="#FF0000"/>
<circle cx="1253.4" cy="3291.2" r="13.8" fill="#FF0000"/>
<circle cx="1395.8" cy="3291.2" r="13.8" fill="#FF0000"/>
<polygon points="360.1,3311.8 376.1,3340.3 344.1,3340.3" fill="#0000FF"/>
<polygon points="394.8,3235.3 410.8,3263.8 378.8,3263.8" fill="#0000FF"/>
<polygon points="420.7,3184.9 436.7,3213.4 404.7,3213.4" fill="#0000FF"/>
<polygon points="485.6,3043.4 501.6,3071.9 469.6,3071.9" fill="#0000FF"/>
<polygon points="549.2,2952.7 565.2,2981.2 533.2,2981.2" fill="#0000FF"/>
<polygon points="708.1,2961.2 724.1,2989.7 692.1,2989.7" fill="#0000FF"/>
<polygon points="817.6,2943.8 833.6,2972.3 801.6,2972.3" fill="#0000FF"/>
<polygon points="946.1,2975.1 962.1,3003.6 930.1,3003.6" fill="#0000FF"/>
<polygon points="1084.2,2943.4 1100.2,2971.9 1068.2,2971.9" fill="#0000FF"/>
<polygon points="1253.4,2942.5 1269.4,2971.0 1237.4,2971.0" fill="#0000FF"/>
<polygon points="1395.8,2956.7 1411.8,2985.2 1379.8,2985.2" fill="#0000FF"/>
<polygon points="344.1,3280.9 376.1,3280.9 360.1,3309.4" fill="#FF00FF"/>
<polygon points="378.8,3196.7 410.8,3196.7 394.8,3225.2" fill="#FF00FF"/>
<polygon points="404.7,3154.3 436.7,3154.3 420.7,3182.8" fill="#FF00FF"/>
<polygon points="469.6,3014.1 501.6,3014.1 485.6,3042.6" fill="#FF00FF"/>
<polygon points="533.2,2923.2 565.2,2923.2 549.2,2951.7" fill="#FF00FF"/>
<polygon points="692.1,2911.0 724.1,2911.0 708.1,2939.5" fill="#FF00FF"/>
<polygon points="801.6,2913.2 833.6,2913.2 817.6,2941.7" fill="#FF00FF"/>
<polygon points="930.1,2921.8 962.1,2921.8 946.1,2950.3" fill="#FF00FF"/>
<polygon points="1068.2,2912.4 1100.2,2912.4 1084.2,2940.9" fill="#FF00FF"/>
<polygon points="1237.4,2913.2 1269.4,2913.2 1253.4,2941.7" fill="#FF00FF"/>
<polygon points="1379.8,2911.0 1411.8,2911.0 1395.8,2939.5" fill="#FF00FF"/>
<polygon points="360.1,3664.9 376.9,3681.7 360.1,3698.6 343.2,3681.7" fill="#00FF00"/>
<polygon points="394.8,3611.8 411.6,3628.6 394.8,3645.5 377.9,3628.6" fill="#00FF00"/>
<polygon points="420.7,3574.1 437.6,3591.0 420.7,3607.8 403.9,3591.0" fill="#00FF00"/>
<polygon points="485.6,3419.9 502.5,3436.7 485.6,3453.6 468.8,3436.7" fill="#00FF00"/>
<polygon points="549.2,3330.3 566.1,3347.2 549.2,3364.0 532.4,3347.2" fill="#00FF00"/>
<polygon points="708.1,3317.2 725.0,3334.0 708.1,3350.9 691.3,3334.0" fill="#00FF00"/>
<polygon points="817.6,3352.3 834.4,3369.2 817.6,3386.0 800.7,3369.2" fill="#00FF00"/>
<polygon points="946.1,3328.0 963.0,3344.9 946.1,3361.7 929.3,3344.9" fill="#00FF00"/>
<polygon points="1084.2,3364.1 1101.1,3381.0 1084.2,3397.8 1067.4,3381.0" fill="#00FF00"/>
<polygon points="1253.4,3321.2 1270.2,3338.1 1253.4,3354.9 1236.5,3338.1" fill="#00FF00"/>
<polygon points="1395.8,3317.8 1412.6,3334.6 1395.8,3351.5 1378.9,3334.6" fill="#00FF00"/>
<polygon points="341.1,3565.3 369.6,3549.2 369.6,3581.4" fill="#000080"/>
<polygon points="375.8,3480.6 404.3,3464.5 404.3,3496.7" fill="#000080"/>
<polygon points="401.7,3438.1 430.2,3422.0 430.2,3454.2" fill="#000080"/>
<polygon points="466.6,3298.9 495.1,3282.8 495.1,3315.0" fill="#000080"/>
<polygon points="530.2,3208.0 558.7,3191.9 558.7,3224.1" fill="#000080"/>
<polygon points="689.1,3196.4 717.6,3180.3 717.6,3212.5" fill="#000080"/>
<polygon points="798.6,3249.3 827.1,3233.2 827.1,3265.4" fill="#000080"/>
<polygon points="927.1,3206.0 955.6,3189.9 955.6,3222.1" fill="#000080"/>
<polygon points="1065.2,3243.1 1093.7,3227.0 1093.7,3259.2" fill="#000080"/>
<polygon points="1234.4,3197.7 1262.9,3181.6 1262.9,3213.8" fill="#000080"/>
<polygon points="1376.8,3196.4 1405.3,3180.3 1405.3,3212.5" fill="#000080"/>
<line x1="360.1" y1="3888.9" x2="549.2" y2="3881.5" stroke="#000000" stroke-width="3" stroke-linecap="butt"/>
<line x1="549.2" y1="3881.5" x2="1396.0" y2="3880.8" stroke="#000000" stroke-width="3" stroke-linecap="butt"/>
<line x1="360.1" y1="3549.3" x2="549.2" y2="3263.6" stroke="#FF0000" stroke-width="3" stroke-linecap="butt"/>
<line x1="549.2" y1="3296.8" x2="1396.0" y2="3290.2" stroke="#FF0000" stroke-width="3" stroke-linecap="butt"/>
<line x1="362.0" y1="3312.0" x2="549.2" y2="2975.7" stroke="#0000FF" stroke-width="2" stroke-linecap="butt"/>
<line x1="549.2" y1="2975.9" x2="1396.0" y2="2970.1" stroke="#0000FF" stroke-width="2" stroke-linecap="butt"/>
<line x1="360.1" y1="3279.0" x2="549.2" y2="2923.0" stroke="#FF00FF" stroke-width="3" stroke-linecap="butt"/>
<line x1="549.2" y1="2924.8" x2="1396.0" y2="2919.9" stroke="#FF00FF" stroke-width="3" stroke-linecap="butt"/>
<line x1="360.1" y1="3681.7" x2="549.2" y2="3345.0" stroke="#00FF00" stroke-width="2" stroke-linecap="butt"/>
<line x1="549.2" y1="3351.4" x2="1396.0" y2="3347.6" stroke="#00FF00" stroke-width="2" stroke-linecap="butt"/>
<line x1="360.1" y1="3552.6" x2="549.2" y2="3207.0" stroke="#000080" stroke-width="2" stroke-linecap="butt"/>
<line x1="549.2" y1="3218.6" x2="1396.0" y2="3208.6" stroke="#000080" stroke-width="2" stroke-linecap="butt"/>
<rect x="223.5" y="2859.5" width="1302.8" height="1061.8000000000002" fill="none" stroke="#000" stroke-width="5"/>
<line x1="199.8" y1="3921.3" x2="223.5" y2="3921.3" stroke="#000000" stroke-width="5" stroke-linecap="butt"/>
<text transform="translate(186.5,3937.8) scale(1,1.05)" font-size="55.5" font-weight="bold" text-anchor="end" >0</text>
<line x1="209.9" y1="3824.8" x2="223.5" y2="3824.8" stroke="#000000" stroke-width="5" stroke-linecap="butt"/>
<line x1="199.8" y1="3728.2" x2="223.5" y2="3728.2" stroke="#000000" stroke-width="5" stroke-linecap="butt"/>
<text transform="translate(186.5,3744.8) scale(1,1.05)" font-size="55.5" font-weight="bold" text-anchor="end" >10</text>
<line x1="209.9" y1="3631.7" x2="223.5" y2="3631.7" stroke="#000000" stroke-width="5" stroke-linecap="butt"/>
<line x1="199.8" y1="3535.2" x2="223.5" y2="3535.2" stroke="#000000" stroke-width="5" stroke-linecap="butt"/>
<text transform="translate(186.5,3551.7) scale(1,1.05)" font-size="55.5" font-weight="bold" text-anchor="end" >20</text>
<line x1="209.9" y1="3438.7" x2="223.5" y2="3438.7" stroke="#000000" stroke-width="5" stroke-linecap="butt"/>
<line x1="199.8" y1="3342.2" x2="223.5" y2="3342.2" stroke="#000000" stroke-width="5" stroke-linecap="butt"/>
<text transform="translate(186.5,3358.7) scale(1,1.05)" font-size="55.5" font-weight="bold" text-anchor="end" >30</text>
<line x1="209.9" y1="3245.6" x2="223.5" y2="3245.6" stroke="#000000" stroke-width="5" stroke-linecap="butt"/>
<line x1="199.8" y1="3149.1" x2="223.5" y2="3149.1" stroke="#000000" stroke-width="5" stroke-linecap="butt"/>
<text transform="translate(186.5,3165.6) scale(1,1.05)" font-size="55.5" font-weight="bold" text-anchor="end" >40</text>
<line x1="209.9" y1="3052.6" x2="223.5" y2="3052.6" stroke="#000000" stroke-width="5" stroke-linecap="butt"/>
<line x1="199.8" y1="2956.1" x2="223.5" y2="2956.1" stroke="#000000" stroke-width="5" stroke-linecap="butt"/>
<text transform="translate(186.5,2972.6) scale(1,1.05)" font-size="55.5" font-weight="bold" text-anchor="end" >50</text>
<line x1="209.9" y1="2859.5" x2="223.5" y2="2859.5" stroke="#000000" stroke-width="5" stroke-linecap="butt"/>
<line x1="223.5" y1="3921.3" x2="223.5" y2="3934.0" stroke="#000000" stroke-width="5" stroke-linecap="butt"/>
<line x1="332.1" y1="3921.3" x2="332.1" y2="3943.5" stroke="#000000" stroke-width="5" stroke-linecap="butt"/>
<text transform="translate(332.1,4002.7) scale(1,1.05)" font-size="55.5" font-weight="bold" text-anchor="middle" >0</text>
<line x1="440.6" y1="3921.3" x2="440.6" y2="3934.0" stroke="#000000" stroke-width="5" stroke-linecap="butt"/>
<line x1="549.2" y1="3921.3" x2="549.2" y2="3943.5" stroke="#000000" stroke-width="5" stroke-linecap="butt"/>
<text transform="translate(549.2,4002.7) scale(1,1.05)" font-size="55.5" font-weight="bold" text-anchor="middle" >1</text>
<line x1="657.8" y1="3921.3" x2="657.8" y2="3934.0" stroke="#000000" stroke-width="5" stroke-linecap="butt"/>
<line x1="766.3" y1="3921.3" x2="766.3" y2="3943.5" stroke="#000000" stroke-width="5" stroke-linecap="butt"/>
<text transform="translate(766.3,4002.7) scale(1,1.05)" font-size="55.5" font-weight="bold" text-anchor="middle" >2</text>
<line x1="874.9" y1="3921.3" x2="874.9" y2="3934.0" stroke="#000000" stroke-width="5" stroke-linecap="butt"/>
<line x1="983.5" y1="3921.3" x2="983.5" y2="3943.5" stroke="#000000" stroke-width="5" stroke-linecap="butt"/>
<text transform="translate(983.5,4002.7) scale(1,1.05)" font-size="55.5" font-weight="bold" text-anchor="middle" >3</text>
<line x1="1092.0" y1="3921.3" x2="1092.0" y2="3934.0" stroke="#000000" stroke-width="5" stroke-linecap="butt"/>
<line x1="1200.6" y1="3921.3" x2="1200.6" y2="3943.5" stroke="#000000" stroke-width="5" stroke-linecap="butt"/>
<text transform="translate(1200.6,4002.7) scale(1,1.05)" font-size="55.5" font-weight="bold" text-anchor="middle" >4</text>
<line x1="1309.2" y1="3921.3" x2="1309.2" y2="3934.0" stroke="#000000" stroke-width="5" stroke-linecap="butt"/>
<line x1="1417.7" y1="3921.3" x2="1417.7" y2="3943.5" stroke="#000000" stroke-width="5" stroke-linecap="butt"/>
<text transform="translate(1417.7,4002.7) scale(1,1.05)" font-size="55.5" font-weight="bold" text-anchor="middle" >5</text>
<line x1="1526.3" y1="3921.3" x2="1526.3" y2="3934.0" stroke="#000000" stroke-width="5" stroke-linecap="butt"/>
<text y="4099" font-size="66" font-weight="bold"><tspan x="742">t</tspan><tspan x="764" font-size="41" dy="-34.5">0.5</tspan><tspan x="838" dy="34.5">(</tspan><tspan x="862">h</tspan><tspan x="902" font-size="41" dy="-34.5">1/2</tspan><tspan x="962" dy="34.5">)</tspan></text>
<text transform="translate(69,3439.5) rotate(-90)" font-size="67.5" font-weight="bold" text-anchor="middle">q<tspan font-size="40" dy="21">t</tspan><tspan dy="-21"> (mg/g)</tspan></text>
<text x="241.5" y="2941.0" font-size="69.5" font-weight="bold" text-anchor="start" >(c)</text>
<rect x="826.6" y="3430.8" width="25.2" height="25.2" fill="#000000"/>
<text x="918.5" y="3462.8" font-size="57.6" font-weight="normal" text-anchor="start" >GO</text>
<circle cx="839.2" cy="3513.8" r="14.2" fill="#FF0000"/>
<text x="918.5" y="3533.2" font-size="57.6" font-weight="normal" text-anchor="start" >MIL-53(Al)</text>
<polygon points="839.2,3564.6 855.7,3594.0 822.7,3594.0" fill="#0000FF"/>
<text x="918.5" y="3603.6" font-size="57.6" font-weight="normal" text-anchor="start" >1% MIL-53(Al)-GO</text>
<polygon points="822.7,3644.8 855.7,3644.8 839.2,3674.2" fill="#FF00FF"/>
<text x="918.5" y="3674.0" font-size="57.6" font-weight="normal" text-anchor="start" >3% MIL-53(Al)-GO</text>
<polygon points="839.2,3707.6 856.6,3725.0 839.2,3742.4 821.8,3725.0" fill="#00FF00"/>
<text x="918.5" y="3744.4" font-size="57.6" font-weight="normal" text-anchor="start" >15% MIL-53(Al)-GO</text>
<polygon points="819.6,3795.4 849.0,3778.8 849.0,3812.0" fill="#000080"/>
<text x="918.5" y="3814.8" font-size="57.6" font-weight="normal" text-anchor="start" >25% MIL-53(Al)-GO</text>
</svg>
</body></html>
